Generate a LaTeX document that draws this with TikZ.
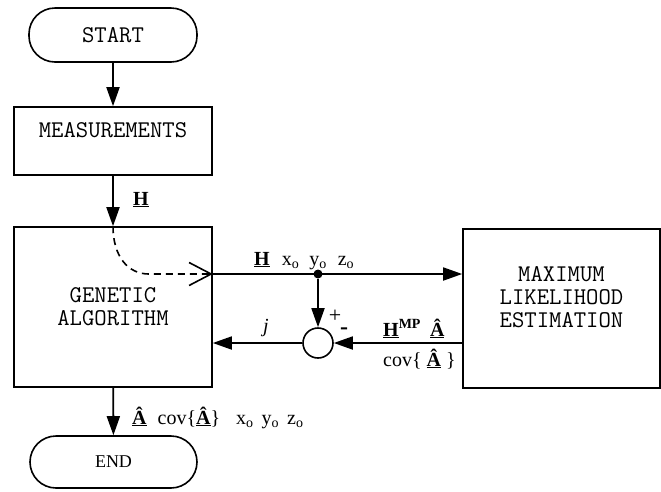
\documentclass[tikz,border=0pt]{standalone}
\usepackage{fontspec}
\setmainfont{Liberation Serif}
\usetikzlibrary{arrows.meta,calc}
\tikzset{
 boxn/.style={draw, line width=1.6pt, inner sep=0pt, align=center, font={\ttfamily\fontsize{24}{23}\selectfont}},
 termn/.style={boxn, rounded corners=26pt},
 flow/.style={line width=1.8pt, -{Triangle[length=19pt,width=13pt]}},
 lbl/.style={inner sep=0pt, font={\fontsize{20}{24}\selectfont}},
}
\newcommand{\ubf}[1]{\underline{\textbf{#1}}}
\begin{document}
\begin{tikzpicture}[x=1pt,y=-1pt]
\useasboundingbox (0,0) rectangle (661,491);
\node[termn, minimum width=168pt, minimum height=54pt] (start) at (113,35) {START};
\node[boxn, minimum width=198pt, minimum height=68pt] (meas) at (113,141) {MEASUREMENTS\\~};
\node[boxn, minimum width=198pt, minimum height=160pt] (ga) at (113,307) {GENETIC\\ALGORITHM};
\node[boxn, minimum width=197pt, minimum height=159pt] (mle) at (561.5,308.5) {MAXIMUM\\LIKELIHOOD\\ESTIMATION\\~};
\node[termn, minimum width=167pt, minimum height=52pt, font={\fontsize{18}{20}\selectfont}] (end) at (113.5,462) {END};
\node[draw, circle, line width=1.6pt, minimum size=30pt, inner sep=0pt] (sum) at (318,343) {};
\node[fill, circle, minimum size=9pt, inner sep=0pt] (dot) at (318,274) {};

\draw[flow] (start) -- (meas);
\draw[flow] (meas) -- (ga);
\draw[flow] (ga) -- (end);
\draw[line width=1.6pt, dash pattern=on 7pt off 5pt, -{Straight Barb[length=22pt,width=23pt]}]
  (ga.north) .. controls ($(ga.north)+(0,30)$) and ($(dot -| ga.east)+(-85,0)$) .. ($(dot -| ga.east)+(-64,0)$) -- (dot -| ga.east);
\draw[flow] (dot -| ga.east) -- (dot -| mle.west);
\draw[flow] (dot) -- (sum);
\draw[flow] (sum.east -| mle.west) -- (sum.east);
\draw[flow] (sum.west) -- (sum.west -| ga.east);

\node[lbl, anchor=base west] (lh) at (133,205) {\ubf{H}};
\node[lbl, anchor=base west] (ltop) at (254,265) {\ubf{H}\hspace{12pt}x\textsubscript{o}\hspace{10pt}y\textsubscript{o}\hspace{11pt}z\textsubscript{o}};
\node[lbl, anchor=base, font={\fontsize{20}{24}\selectfont\itshape}] (lj) at (266,332) {j};
\node[lbl, font={\fontsize{22}{24}\selectfont}] (lplus) at (335,316) {+};
\node[lbl, font={\fontsize{24}{24}\selectfont\bfseries}] (lminus) at (344,331) {-};
\node[lbl, anchor=base west] (lhmp) at (383,336) {\ubf{H}\textsuperscript{\textbf{MP}}\hspace{9pt}\ubf{Â}};
\node[lbl, anchor=base west] (lcov) at (383,366) {cov\{ \ubf{Â} \}};
\node[lbl, anchor=base west] (lout) at (132,424) {\ubf{Â}\hspace{11pt}cov\{\ubf{Â}\}\hspace{16pt}x\textsubscript{o}\hspace{8pt}y\textsubscript{o}\hspace{8pt}z\textsubscript{o}};
\end{tikzpicture}
\end{document}
